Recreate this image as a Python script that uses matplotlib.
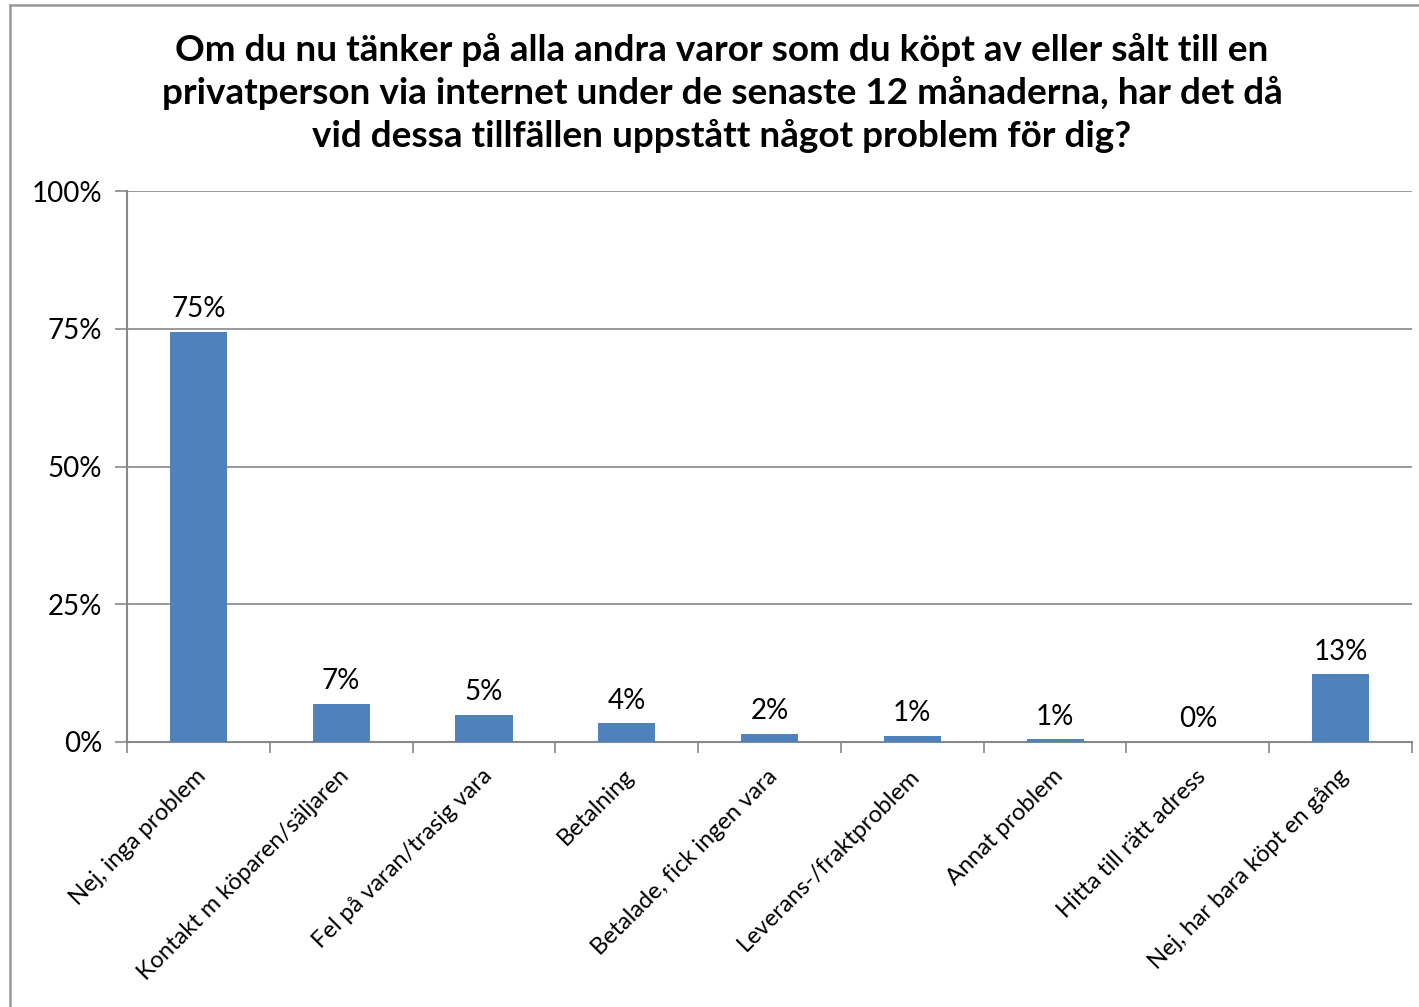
import matplotlib
matplotlib.use("Agg")
import matplotlib.pyplot as plt
from matplotlib.lines import Line2D

plt.rcParams['font.family'] = ['Lato', 'DejaVu Sans']

categories = ["Nej, inga problem", "Kontakt m köparen/säljaren", "Fel på varan/trasig vara",
              "Betalning", "Betalade, fick ingen vara", "Leverans-/fraktproblem",
              "Annat problem", "Hitta till rätt adress", "Nej, har bara köpt en gång"]
values = [74.5, 6.9, 4.9, 3.4, 1.45, 1.1, 0.5, 0.05, 12.3]
value_labels = ["75%", "7%", "5%", "4%", "2%", "1%", "1%", "0%", "13%"]
yticks = [0, 25, 50, 75, 100]
ytick_labels = ["0%", "25%", "50%", "75%", "100%"]
title = ("Om du nu tänker på alla andra varor som du köpt av eller sålt till en\n"
         "privatperson via internet under de senaste 12 månaderna, har det då\n"
         "vid dessa tillfällen uppstått något problem för dig?")

W, H = 1419, 1007
fig = plt.figure(figsize=(W / 100, H / 100), dpi=100)
ax = fig.add_axes([127 / W, 1 - 742 / H, (1412 - 127) / W, (742 - 191) / H])

x = list(range(len(categories)))
ax.bar(x, values, width=0.4, color="#4F81BD", zorder=3)
ax.set_xlim(-0.5, len(categories) - 0.5)
ax.set_ylim(0, 100)

for xi, v, lab in zip(x, values, value_labels):
    ax.annotate(lab, (xi, v), xytext=(0, 7), textcoords="offset points",
                ha="center", va="bottom", fontsize=20, color="black")

ax.set_yticks(yticks)
ax.set_yticklabels(ytick_labels, fontsize=20)
ax.yaxis.grid(True, color="#888888", linewidth=1.2, zorder=0)
ax.tick_params(axis="y", length=9, width=1.2, color="#888888", pad=9)

ax.set_xticks([i - 0.5 for i in range(len(categories) + 1)])
ax.set_xticklabels([])
ax.tick_params(axis="x", length=8, width=1.2, color="#888888")
for xi, lab in zip(x, categories):
    ax.text(xi + 0.03, -5.6, lab, rotation=45, rotation_mode="anchor",
            ha="right", va="center", fontsize=17, transform=ax.transData)

for s in ["top", "right"]:
    ax.spines[s].set_visible(False)
for s in ["left", "bottom"]:
    ax.spines[s].set_color("#888888")
    ax.spines[s].set_linewidth(1.5)

fig.text(722 / W, 1 - 93 / H, title, ha="center", va="center", fontsize=26.6,
         fontweight="bold", linespacing=1.33)

# chart-area frame (only top and left edges visible in the crop)
fig.add_artist(Line2D([10 / W, 1.0], [1 - 5 / H, 1 - 5 / H], transform=fig.transFigure,
                      color="#999999", linewidth=1.8))
fig.add_artist(Line2D([10 / W, 10 / W], [0, 1 - 5 / H], transform=fig.transFigure,
                      color="#999999", linewidth=1.8))

fig.savefig("out.png", dpi=100)
